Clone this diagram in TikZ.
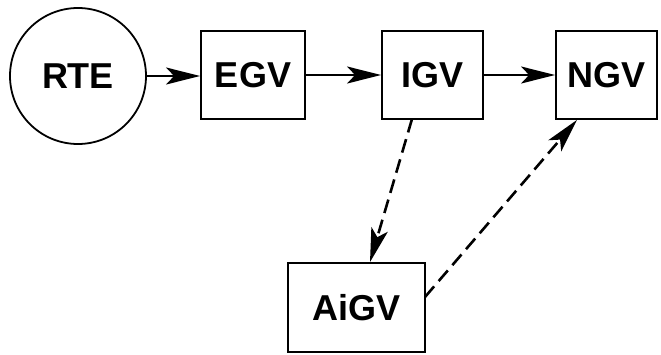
\documentclass[tikz,border=0pt]{standalone}
\usepackage{fontspec}
\setmainfont{Liberation Sans}
\usetikzlibrary{arrows.meta}
\begin{document}
\begin{tikzpicture}[x=1pt,y=-1pt,
  lbl/.style={font=\fontsize{36}{40}\selectfont\bfseries},
  boxnode/.style={draw,line width=1.8pt,lbl,inner sep=0pt},
  arr/.style={line width=2.2pt,-{Stealth[length=34pt,width=17pt,inset=8pt]}},
  darr/.style={arr,line width=2.6pt,dash pattern=on 14pt off 7pt}]
\useasboundingbox (0,0) rectangle (661,354);
\node[draw,circle,line width=1.8pt,minimum size=136pt,lbl,inner sep=0pt] (rte) at (78,76) {RTE};
\node[boxnode,minimum width=104pt,minimum height=88pt] (egv) at (253,75) {EGV};
\node[boxnode,minimum width=101pt,minimum height=88pt] (igv) at (432.5,75) {IGV};
\node[boxnode,minimum width=101pt,minimum height=88pt] (ngv) at (606.5,75) {NGV};
\node[boxnode,minimum width=137pt,minimum height=89pt] (aigv) at (356.5,307.5) {AiGV};
\draw[arr] (rte.east) -- (rte.east -| egv.west);
\draw[arr] (egv.east) -- (igv.west);
\draw[arr] (igv.east) -- (ngv.west);
\draw[darr] (412,119) -- (aigv.north -| 370,0);
\coordinate (aigvout) at (425,297);
\draw[darr] (aigvout) -- (ngv.south -| 577,0);
\end{tikzpicture}
\end{document}
